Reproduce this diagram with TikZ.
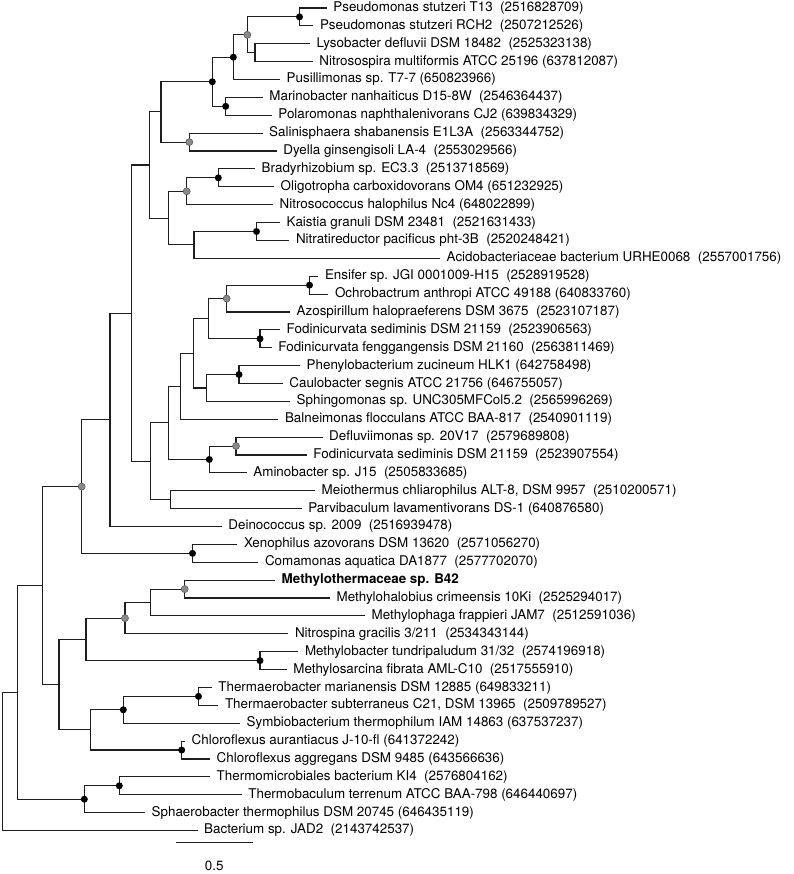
\documentclass[tikz,border=0pt]{standalone}
\usepackage{fontspec}
\setmainfont{TeX Gyre Heros}
\definecolor{linec}{HTML}{1E1E1E}
\definecolor{dotgrey}{HTML}{8A8A8A}
\definecolor{dotgreyb}{HTML}{5A5A5A}
\tikzset{
  br/.style={draw=linec, line width=1.1pt},
  lab/.style={anchor=west, inner sep=0pt, xshift=6.5pt, font=\fontsize{13.4}{16}\selectfont, text=black},
  bdot/.style={circle, fill=black, inner sep=0pt, minimum size=7pt},
  gdot/.style={circle, fill=dotgrey, draw=dotgreyb, line width=0.6pt, inner sep=0pt, minimum size=7pt}
}
\begin{document}
\begin{tikzpicture}[x=1pt,y=-1pt]
\useasboundingbox (0,0) rectangle (793,874);
% leaf tips
\coordinate (t1) at (326.7,8.0);
\coordinate (t2) at (313.3,25.88);
\coordinate (t3) at (310,43.76);
\coordinate (t4) at (312.7,61.64);
\coordinate (t5) at (280,79.52);
\coordinate (t6) at (262.7,97.4);
\coordinate (t7) at (271.7,115.28);
\coordinate (t8) at (262.5,133.16);
\coordinate (t9) at (276.7,151.04);
\coordinate (t10) at (255,168.92);
\coordinate (t11) at (274,186.8);
\coordinate (t12) at (273,204.68);
\coordinate (t13) at (280,222.56);
\coordinate (t14) at (289.3,240.44);
\coordinate (t15) at (440,258.32);
\coordinate (t16) at (318.3,276.2);
\coordinate (t17) at (328.3,294.08);
\coordinate (t18) at (290,311.96);
\coordinate (t19) at (280,329.84);
\coordinate (t20) at (271.7,347.72);
\coordinate (t21) at (300,365.6);
\coordinate (t22) at (282.7,383.48);
\coordinate (t23) at (290,401.36);
\coordinate (t24) at (278.3,419.24);
\coordinate (t25) at (322.5,437.12);
\coordinate (t26) at (306.7,455.0);
\coordinate (t27) at (246.7,472.88);
\coordinate (t28) at (315,490.76);
\coordinate (t29) at (301.7,508.64);
\coordinate (t30) at (221.7,526.52);
\coordinate (t31) at (237.3,544.4);
\coordinate (t32) at (258.3,562.28);
\coordinate (t33) at (275,580.16);
\coordinate (t34) at (330,598.04);
\coordinate (t35) at (365,615.92);
\coordinate (t36) at (288.3,633.8);
\coordinate (t37) at (298.3,651.68);
\coordinate (t38) at (286.7,669.56);
\coordinate (t39) at (211.7,687.44);
\coordinate (t40) at (218.3,705.32);
\coordinate (t41) at (240,723.2);
\coordinate (t42) at (185,741.08);
\coordinate (t43) at (210,758.96);
\coordinate (t44) at (210,776.84);
\coordinate (t45) at (241.7,794.72);
\coordinate (t46) at (145,812.6);
\coordinate (t47) at (197.5,830.48);
% internal nodes
\coordinate (nPs) at (299.5,16.94);
\coordinate (nLN) at (255,52.7);
\coordinate (nG1) at (247.3,34.82);
\coordinate (nB1) at (233.3,57.17);
\coordinate (nMP) at (225.7,106.34);
\coordinate (nB2) at (212.3,81.76);
\coordinate (nSD) at (189.3,142.1);
\coordinate (nA) at (161,111.93);
\coordinate (nBO) at (218.3,177.86);
\coordinate (nG2) at (186.7,191.27);
\coordinate (nKN) at (256.5,231.5);
\coordinate (nKA) at (194,244.91);
\coordinate (nC) at (168.3,218.09);
\coordinate (nD) at (149.3,165.01);
\coordinate (nEO) at (309.5,285.14);
\coordinate (nG3) at (226.7,298.55);
\coordinate (nFF) at (260,338.78);
\coordinate (nE) at (208.3,318.67);
\coordinate (nPC) at (239,374.54);
\coordinate (nF) at (206.7,387.95);
\coordinate (nG) at (193.3,353.31);
\coordinate (nH) at (180.7,386.28);
\coordinate (nDF) at (236,446.06);
\coordinate (nDA) at (209.3,459.47);
\coordinate (nI) at (168.3,422.88);
\coordinate (nMQ) at (170.7,499.7);
\coordinate (nJ) at (150.7,461.29);
\coordinate (nK) at (131.7,313.15);
\coordinate (nL) at (110,419.84);
\coordinate (nXC) at (192.5,553.34);
\coordinate (nG4) at (81.7,486.59);
\coordinate (nMM) at (184.7,589.1);
\coordinate (nM) at (150.7,602.51);
\coordinate (nG5) at (125,618.16);
\coordinate (nMS) at (260,660.62);
\coordinate (nN) at (86,639.39);
\coordinate (nTT) at (198.5,696.38);
\coordinate (nTS) at (123.3,709.79);
\coordinate (nCF) at (181.7,750.02);
\coordinate (nO) at (90.7,729.9);
\coordinate (nP) at (59,684.65);
\coordinate (nQ) at (42.7,585.62);
\coordinate (nTB) at (119.3,785.78);
\coordinate (nTR) at (84.3,799.19);
\coordinate (nR) at (17.3,692.4);
\coordinate (nRoot) at (2.7,761.44);
% branches
\foreach \p/\c in {nPs/t1,nPs/t2,nLN/t3,nLN/t4,nG1/nPs,nG1/nLN,nB1/nG1,nB1/t5,
  nMP/t6,nMP/t7,nB2/nB1,nB2/nMP,nSD/t8,nSD/t9,nA/nB2,nA/nSD,
  nBO/t10,nBO/t11,nG2/nBO,nG2/t12,nKN/t13,nKN/t14,nKA/nKN,nKA/t15,
  nC/nG2,nC/nKA,nD/nA,nD/nC,
  nEO/t16,nEO/t17,nG3/nEO,nG3/t18,nFF/t19,nFF/t20,nE/nG3,nE/nFF,
  nPC/t21,nPC/t22,nF/nPC,nF/t23,nG/nE,nG/nF,nH/nG,nH/t24,
  nDF/t25,nDF/t26,nDA/nDF,nDA/t27,nI/nH,nI/nDA,nMQ/t28,nMQ/t29,
  nJ/nI,nJ/nMQ,nK/nD,nK/nJ,nL/nK,nL/t30,nXC/t31,nXC/t32,nG4/nL,nG4/nXC,
  nMM/t33,nMM/t34,nM/nMM,nM/t35,nG5/nM,nG5/t36,nMS/t37,nMS/t38,nN/nG5,nN/nMS,
  nTT/t39,nTT/t40,nTS/nTT,nTS/t41,nCF/t42,nCF/t43,nO/nTS,nO/nCF,nP/nN,nP/nO,
  nQ/nG4,nQ/nP,nTB/t44,nTB/t45,nTR/nTB,nTR/t46,nR/nQ,nR/nTR,nRoot/nR,nRoot/t47}
  {\draw[br] (\p) |- (\c);}
% dots
\foreach \n in {nPs,nB1,nMP,nB2,nBO,nKN,nEO,nFF,nPC,nDA,nXC,nMS,nTT,nTS,nCF,nTB,nTR}
  {\node[bdot] at (\n) {};}
\foreach \n in {nG1,nSD,nG2,nG3,nDF,nG4,nMM,nG5}
  {\node[gdot] at (\n) {};}
% labels
\node[lab] (l1) at (t1) {Pseudomonas stutzeri T13~~(2516828709)};
\node[lab] (l2) at (t2) {Pseudomonas stutzeri RCH2~~(2507212526)};
\node[lab] (l3) at (t3) {Lysobacter defluvii DSM 18482~~(2525323138)};
\node[lab] (l4) at (t4) {Nitrosospira multiformis ATCC 25196 (637812087)};
\node[lab] (l5) at (t5) {Pusillimonas sp. T7-7 (650823966)};
\node[lab] (l6) at (t6) {Marinobacter nanhaiticus D15-8W~~(2546364437)};
\node[lab] (l7) at (t7) {Polaromonas naphthalenivorans CJ2 (639834329)};
\node[lab] (l8) at (t8) {Salinisphaera shabanensis E1L3A~~(2563344752)};
\node[lab] (l9) at (t9) {Dyella ginsengisoli LA-4~~(2553029566)};
\node[lab] (l10) at (t10) {Bradyrhizobium sp. EC3.3~~(2513718569)};
\node[lab] (l11) at (t11) {Oligotropha carboxidovorans OM4 (651232925)};
\node[lab] (l12) at (t12) {Nitrosococcus halophilus Nc4 (648022899)};
\node[lab] (l13) at (t13) {Kaistia granuli DSM 23481~~(2521631433)};
\node[lab] (l14) at (t14) {Nitratireductor pacificus pht-3B~~(2520248421)};
\node[lab] (l15) at (t15) {Acidobacteriaceae bacterium URHE0068~~(2557001756)};
\node[lab] (l16) at (t16) {Ensifer sp. JGI 0001009-H15~~(2528919528)};
\node[lab] (l17) at (t17) {Ochrobactrum anthropi ATCC 49188 (640833760)};
\node[lab] (l18) at (t18) {Azospirillum halopraeferens DSM 3675~~(2523107187)};
\node[lab] (l19) at (t19) {Fodinicurvata sediminis DSM 21159~~(2523906563)};
\node[lab] (l20) at (t20) {Fodinicurvata fenggangensis DSM 21160~~(2563811469)};
\node[lab] (l21) at (t21) {Phenylobacterium zucineum HLK1 (642758498)};
\node[lab] (l22) at (t22) {Caulobacter segnis ATCC 21756 (646755057)};
\node[lab] (l23) at (t23) {Sphingomonas sp. UNC305MFCol5.2~~(2565996269)};
\node[lab] (l24) at (t24) {Balneimonas flocculans ATCC BAA-817~~(2540901119)};
\node[lab] (l25) at (t25) {Defluviimonas sp. 20V17~~(2579689808)};
\node[lab] (l26) at (t26) {Fodinicurvata sediminis DSM 21159~~(2523907554)};
\node[lab] (l27) at (t27) {Aminobacter sp. J15~~(2505833685)};
\node[lab] (l28) at (t28) {Meiothermus chliarophilus ALT-8, DSM 9957~~(2510200571)};
\node[lab] (l29) at (t29) {Parvibaculum lavamentivorans DS-1 (640876580)};
\node[lab] (l30) at (t30) {Deinococcus sp. 2009~~(2516939478)};
\node[lab] (l31) at (t31) {Xenophilus azovorans DSM 13620~~(2571056270)};
\node[lab] (l32) at (t32) {Comamonas aquatica DA1877~~(2577702070)};
\node[lab] (l33) at (t33) {\bfseries Methylothermaceae sp. B42};
\node[lab] (l34) at (t34) {Methylohalobius crimeensis 10Ki~~(2525294017)};
\node[lab] (l35) at (t35) {Methylophaga frappieri JAM7~~(2512591036)};
\node[lab] (l36) at (t36) {Nitrospina gracilis 3/211~~(2534343144)};
\node[lab] (l37) at (t37) {Methylobacter tundripaludum 31/32~~(2574196918)};
\node[lab] (l38) at (t38) {Methylosarcina fibrata AML-C10~~(2517555910)};
\node[lab] (l39) at (t39) {Thermaerobacter marianensis DSM 12885 (649833211)};
\node[lab] (l40) at (t40) {Thermaerobacter subterraneus C21, DSM 13965~~(2509789527)};
\node[lab] (l41) at (t41) {Symbiobacterium thermophilum IAM 14863 (637537237)};
\node[lab] (l42) at (t42) {Chloroflexus aurantiacus J-10-fl (641372242)};
\node[lab] (l43) at (t43) {Chloroflexus aggregans DSM 9485 (643566636)};
\node[lab] (l44) at (t44) {Thermomicrobiales bacterium KI4~~(2576804162)};
\node[lab] (l45) at (t45) {Thermobaculum terrenum ATCC BAA-798 (646440697)};
\node[lab] (l46) at (t46) {Sphaerobacter thermophilus DSM 20745 (646435119)};
\node[lab] (l47) at (t47) {Bacterium sp. JAD2~~(2143742537)};
% scale bar
\coordinate (sbL) at (176,842.7);
\coordinate (sbR) at (252.7,842.7);
\draw[br] (sbL) -- (sbR);
\node[font=\fontsize{13.4}{16}\selectfont, inner sep=0pt] (sblab) at (214.3,866) {0.5};
\end{tikzpicture}
\end{document}
